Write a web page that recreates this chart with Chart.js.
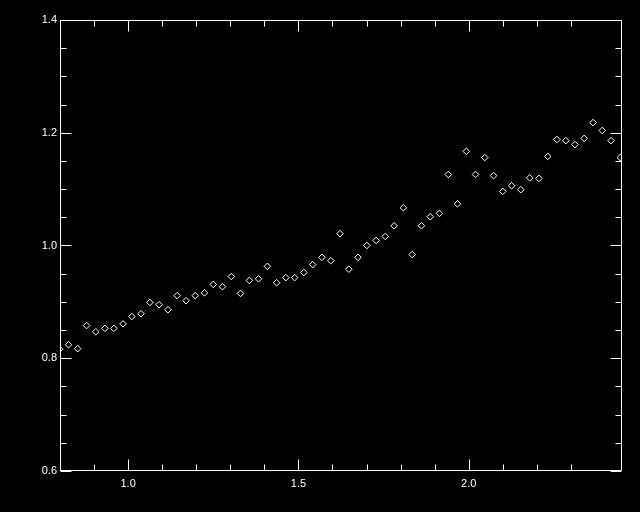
<!DOCTYPE html>
<html>
<head>
<meta charset="utf-8">
<script src="https://cdn.jsdelivr.net/npm/chart.js@4/dist/chart.umd.min.js"></script>
<style>
  html, body { margin: 0; padding: 0; background: #000; }
  #wrap { width: 640px; height: 512px; }
</style>
</head>
<body>
<div id="wrap"><canvas id="c" width="640" height="512"></canvas></div>
<script>
// ---- data ----
const xValues = [
  0.799, 0.825, 0.852, 0.878, 0.905, 0.932, 0.958, 0.985, 1.011, 1.038,
  1.064, 1.091, 1.117, 1.144, 1.170, 1.197, 1.224, 1.250, 1.277, 1.303,
  1.330, 1.356, 1.383, 1.409, 1.436, 1.463, 1.489, 1.516, 1.542, 1.569,
  1.595, 1.622, 1.648, 1.675, 1.701, 1.728, 1.755, 1.781, 1.808, 1.834,
  1.861, 1.887, 1.914, 1.940, 1.967, 1.993, 2.020, 2.047, 2.073, 2.100,
  2.126, 2.153, 2.179, 2.206, 2.232, 2.259, 2.285, 2.312, 2.339, 2.365,
  2.392, 2.418, 2.445
];
const yValues = [
  0.816, 0.824, 0.817, 0.858, 0.847, 0.853, 0.853, 0.861, 0.874, 0.879,
  0.899, 0.895, 0.886, 0.911, 0.902, 0.911, 0.916, 0.931, 0.927, 0.945,
  0.915, 0.938, 0.941, 0.963, 0.934, 0.943, 0.943, 0.952, 0.966, 0.979,
  0.973, 1.021, 0.958, 0.979, 1.000, 1.009, 1.016, 1.035, 1.067, 0.984,
  1.035, 1.051, 1.057, 1.126, 1.074, 1.167, 1.126, 1.156, 1.124, 1.096,
  1.106, 1.099, 1.120, 1.119, 1.158, 1.188, 1.186, 1.179, 1.190, 1.218,
  1.204, 1.186, 1.156
];
const xTickLabels = [1.0, 1.5, 2.0];
const yTickLabels = [0.6, 0.8, 1.0, 1.2, 1.4];
const xRange = [0.8, 2.45];
const yRange = [0.6, 1.4];
const xMinorStep = 0.1;
const yMinorStep = 0.05;

const points = xValues.map((x, i) => ({ x: x, y: yValues[i] }));

function isLabelled(v, list) {
  return list.some(t => Math.abs(t - v) < 1e-6);
}
function onStep(v, step) {
  const r = v / step;
  return Math.abs(r - Math.round(r)) < 1e-6;
}

const FONT = { family: "'Liberation Sans', Arial, sans-serif", size: 11 };

const framePlugin = {
  id: 'frame',
  beforeDraw(chart) {
    const ctx = chart.ctx;
    ctx.save();
    ctx.fillStyle = '#000';
    ctx.fillRect(0, 0, chart.width, chart.height);
    ctx.restore();
  },
  afterDraw(chart) {
    const ctx = chart.ctx;
    const a = chart.chartArea;
    const xs = chart.scales.x, ys = chart.scales.y;
    ctx.save();
    ctx.strokeStyle = '#fff';
    ctx.lineWidth = 1;
    const L = Math.round(a.left) + 0.5, R = Math.round(a.right) - 0.5;
    const T = Math.round(a.top) + 0.5, B = Math.round(a.bottom) - 0.5;
    ctx.beginPath();
    ctx.rect(L, T, R - L, B - T);
    ctx.stroke();
    ctx.beginPath();
    xs.ticks.forEach(t => {
      if (!onStep(t.value, xMinorStep)) return;
      const px = Math.round(xs.getPixelForValue(t.value)) + 0.5;
      const len = isLabelled(t.value, xTickLabels) ? 11 : 6;
      ctx.moveTo(px, B); ctx.lineTo(px, B - len);
      ctx.moveTo(px, T); ctx.lineTo(px, T + len);
    });
    ys.ticks.forEach(t => {
      if (!onStep(t.value, yMinorStep)) return;
      const py = Math.round(ys.getPixelForValue(t.value)) + 0.5;
      const len = isLabelled(t.value, yTickLabels) ? 11 : 6;
      ctx.moveTo(L, py); ctx.lineTo(L + len, py);
      ctx.moveTo(R, py); ctx.lineTo(R - len, py);
    });
    ctx.stroke();
    ctx.restore();
  }
};

new Chart(document.getElementById('c'), {
  type: 'scatter',
  data: {
    datasets: [{
      data: points,
      showLine: false,
      pointStyle: 'rectRot',
      pointRadius: 3.3,
      pointHoverRadius: 3.3,
      pointBorderWidth: 1,
      pointBorderColor: '#ffffff',
      pointBackgroundColor: 'rgba(0,0,0,0)',
      clip: 0
    }]
  },
  options: {
    responsive: false,
    animation: false,
    events: [],
    layout: { padding: { top: 20, right: 18, left: 0, bottom: 0 } },
    plugins: { legend: { display: false }, tooltip: { enabled: false } },
    scales: {
      x: {
        type: 'linear',
        min: xRange[0], max: xRange[1],
        grid: { display: false, drawTicks: false },
        border: { display: false },
        afterFit(s) { s.height = 41; },
        ticks: {
          stepSize: xMinorStep,
          autoSkip: false,
          maxRotation: 0,
          padding: 6,
          color: '#ffffff',
          font: FONT,
          callback(v) { return isLabelled(v, xTickLabels) ? v.toFixed(1) : ''; }
        }
      },
      y: {
        type: 'linear',
        min: yRange[0], max: yRange[1],
        grid: { display: false, drawTicks: false },
        border: { display: false },
        afterFit(s) { s.width = 60; },
        ticks: {
          stepSize: yMinorStep,
          autoSkip: false,
          padding: 3,
          color: '#ffffff',
          font: FONT,
          callback(v) { return isLabelled(v, yTickLabels) ? v.toFixed(1) : ''; }
        }
      }
    }
  },
  plugins: [framePlugin]
});
</script>
</body>
</html>
